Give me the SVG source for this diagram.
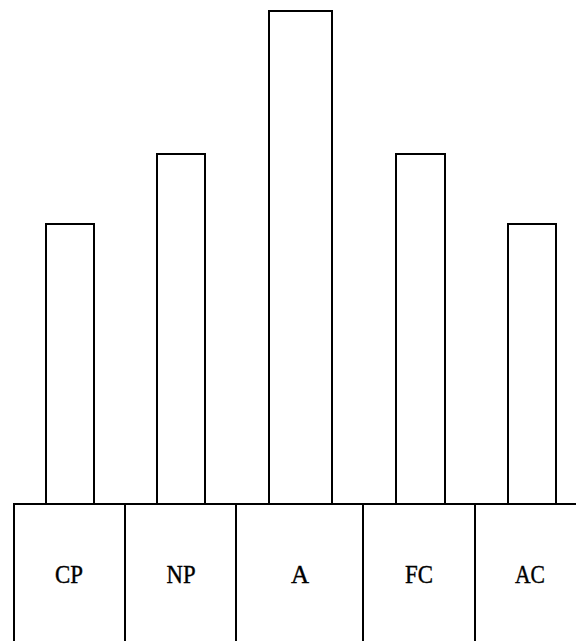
<svg xmlns="http://www.w3.org/2000/svg" width="576" height="641" viewBox="0 0 576 641">
<style>
.ln{stroke:#000;stroke-width:2;fill:none}
.t{font-family:"Liberation Serif",serif;font-size:25px;text-anchor:middle;fill:#000;stroke:#000;stroke-width:0.4}
</style>
<rect width="576" height="641" fill="#fff"/>
<g id="bar-cp"><path class="ln" d="M46,504 V224 H94 V504"/></g>
<g id="bar-np"><path class="ln" d="M157,504 V154 H205 V504"/></g>
<g id="bar-a"><path class="ln" d="M269,504 V11 H332 V504"/></g>
<g id="bar-fc"><path class="ln" d="M396,504 V154 H445 V504"/></g>
<g id="bar-ac"><path class="ln" d="M508,504 V224 H556 V504"/></g>
<g id="table">
<path class="ln" d="M14,641 V504 H576"/>
<path class="ln" d="M125,504 V641 M236,504 V641 M363,504 V641 M475,504 V641"/>
</g>
<g id="cell-cp"><text class="t" x="69" y="583" textLength="28" lengthAdjust="spacingAndGlyphs">CP</text></g>
<g id="cell-np"><text class="t" x="181" y="583" textLength="29" lengthAdjust="spacingAndGlyphs">NP</text></g>
<g id="cell-a"><text class="t" x="300" y="583">A</text></g>
<g id="cell-fc"><text class="t" x="419" y="583" textLength="28" lengthAdjust="spacingAndGlyphs">FC</text></g>
<g id="cell-ac"><text class="t" x="530" y="583" textLength="30" lengthAdjust="spacingAndGlyphs">AC</text></g>
</svg>
